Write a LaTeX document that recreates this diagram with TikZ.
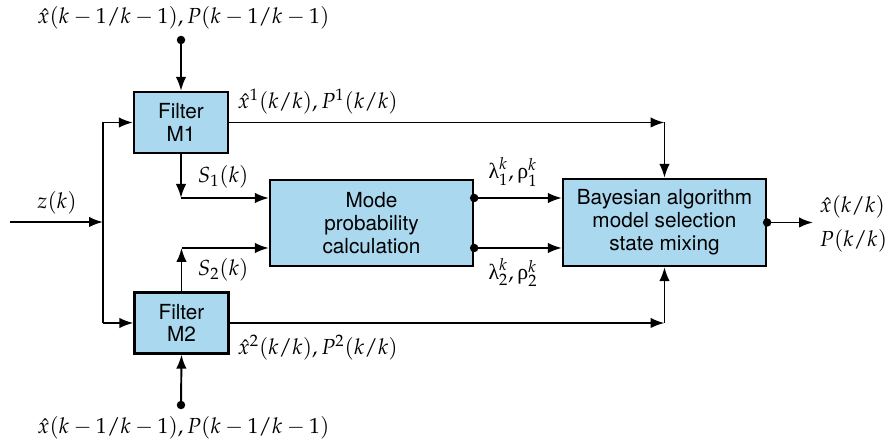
\documentclass[tikz,border=0pt]{standalone}
\usepackage{mathpazo}
\usepackage{fontspec}
\newfontfamily\boxfont{TeX Gyre Heros}
\newfontfamily\grkfont{Liberation Serif}
\newcommand{\uplam}{\mbox{\grkfont λ}}
\newcommand{\uprh}{\mbox{\grkfont ρ}}
\usetikzlibrary{arrows.meta}
\definecolor{boxblue}{RGB}{170,216,238}

\begin{document}
\begin{tikzpicture}[line width=1.1pt,>={Latex[length=2.8mm,width=2.1mm]},
  blk/.style={draw,line width=1.3pt,fill=boxblue,align=center,inner sep=0pt,
    font=\boxfont\fontsize{11.8}{13}\selectfont},
  dot/.style={circle,fill,inner sep=0pt,minimum size=1.7mm},
  lbl/.style={font=\fontsize{12.4}{14}\selectfont}]
  \useasboundingbox (0,0) rectangle (17.86,8.9);
  % blocks
  \node[blk,minimum width=1.88cm,minimum height=1.22cm] (m1) at (3.62,6.45) {Filter\\M1};
  \node[blk,minimum width=1.88cm,minimum height=1.22cm] (m2) at (3.63,2.44) {Filter\\M2};
  \node[blk,minimum width=4.06cm,minimum height=1.72cm] (mode) at (7.43,4.44) {Mode\\probability\\calculation};
  \node[blk,minimum width=4.06cm,minimum height=1.74cm] (bayes) at (13.29,4.45) {Bayesian algorithm\\model selection\\state mixing};
  % measurement z(k)
  \coordinate (zin) at (0.2,4.46);
  \coordinate (zsp) at (2.06,4.46);
  \node[lbl] (zlbl) at (1.14,4.84) {$z(k)$};
  \draw[->] (zin) -- (zsp);
  \draw (zsp |- m1.west) -- (zsp |- m2.west);
  \draw[->] (zsp |- m1.west) -- (m1.west);
  \draw[->] (zsp |- m2.west) -- (m2.west);
  % prior estimates
  \node[dot] (top) at (3.62,8.1) {};
  \node[lbl] (toplbl) at (3.67,8.54) {$\hat x(k-1/k-1),P(k-1/k-1)$};
  \draw[->] (top.center) -- (m1.north);
  \node[dot] (bot) at (3.62,0.8) {};
  \node[lbl] (botlbl) at (3.67,0.34) {$\hat x(k-1/k-1),P(k-1/k-1)$};
  \draw[->] (bot.center) -- (m2.south);
  % filter estimates to the mixing block
  \coordinate (c1) at (bayes.north |- m1.east);
  \coordinate (c2) at (bayes.south |- m2.east);
  \draw[->] (m1.east) -- (c1);
  \draw[->] (c1) -- (bayes.north);
  \draw[->] (m2.east) -- (c2);
  \draw[->] (c2) -- (bayes.south);
  \node[lbl,anchor=west] (x1lbl) at (4.62,6.86) {$\hat x^1(k/k),P^1(k/k)$};
  \node[lbl,anchor=west] (x2lbl) at (4.62,1.94) {$\hat x^2(k/k),P^2(k/k)$};
  % likelihoods
  \coordinate (s1) at (3.62,4.94);
  \coordinate (s2) at (3.63,3.94);
  \draw[->] (m1.south) -- (s1);
  \draw[->] (s1) -- (s1 -| mode.west);
  \draw[->] (m2.north) -- (s2);
  \draw[->] (s2) -- (s2 -| mode.west);
  \node[lbl,anchor=west] (s1lbl) at (3.82,5.36) {$S_1(k)$};
  \node[lbl,anchor=west] (s2lbl) at (3.82,3.5) {$S_2(k)$};
  % mode probabilities
  \node[dot] (p1) at (s1 -| mode.east) {};
  \node[dot] (p2) at (s2 -| mode.east) {};
  \draw[->] (p1.center) -- (p1 -| bayes.west);
  \draw[->] (p2.center) -- (p2 -| bayes.west);
  \node[lbl] (p1lbl) at (10.26,5.46) {$\uplam_1^k,\uprh_1^k$};
  \node[lbl] (p2lbl) at (10.26,3.44) {$\uplam_2^k,\uprh_2^k$};
  % output
  \node[dot] (bout) at (bayes.east) {};
  \coordinate (out) at (16.26,4.45);
  \draw[->] (bout.center) -- (out);
  \node[lbl,anchor=west,align=left,inner sep=1pt] (outlbl) at (16.34,4.42) {$\hat x(k/k)$\\[5pt]$P(k/k)$};
\end{tikzpicture}
\end{document}
